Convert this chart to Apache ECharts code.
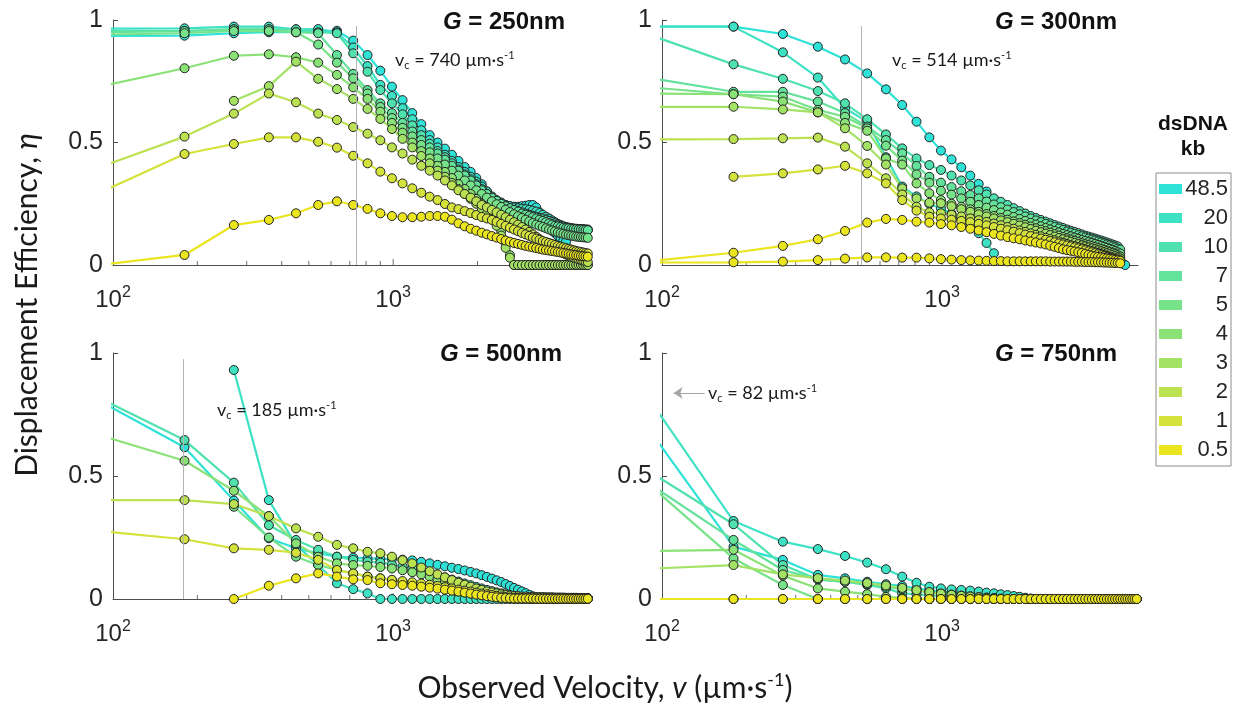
<!DOCTYPE html>
<html><head><meta charset="utf-8">
<script src="https://cdn.jsdelivr.net/npm/echarts@6/dist/echarts.min.js"></script>
<style>html,body{margin:0;padding:0;background:#fff}#c{width:1242px;height:707px}</style>
</head><body><div id="c"></div><script>
// ---------- DATA ----------
const velocity = [90,180,270,360,450,540,630,720,810,900,990,1080,1170,1260,1350,1440,1530,1620,1710,1800,1890,1980,2070,2160,2250,2340,2430,2520,2610,2700,2790,2880,2970,3060,3150,3240,3330,3420,3510,3600,3690,3780,3870,3960,4050,4140,4230,4320,4410,4500,4590,4680,4770,4860,4950];
const kbLabels = ['48.5','20','10','7','5','4','3','2','1','0.5'];
const kbColors = ['#2ee2d8','#3de2c4','#50e2ae','#63e29b','#76e289','#8ae277','#a3e265','#bde251','#d5e23b','#ebe51f'];
const gLabels = ['250','300','500','750'];
const vcText = ['740','514','185','82'];
const vcLinePos = [740, 514, 178];
const xMinorTicks = [200,300,400,500,600,700,800,900,2000,3000,4000];
const xMajorTicks = [1000];

// G = 250 nm
const g250_48_5 = [0.935,0.936,0.946,0.95,0.95,0.955,0.956,0.916,0.857,0.793,
 0.728,0.673,0.62,0.575,0.53,0.50,0.475,0.45,0.425,0.40,
 0.38,0.355,0.33,0.30,0.275,0.26,0.25,0.245,0.24,0.238,
 0.238,0.24,0.242,0.245,0.245,0.235,0.215,0.197,0.175,0.155,
 0.14,0.13,0.12,0.11,0.10,0.095,null,null,null,null,
 null,null,null,null,null];
const g250_20 = [0.965,0.966,0.973,0.973,0.962,0.963,0.95,0.888,0.812,0.735,
 0.69,0.64,0.595,0.55,0.51,0.48,0.45,0.425,0.40,0.38,
 0.36,0.34,0.32,0.30,0.28,0.265,0.255,0.245,0.24,0.235,
 0.232,0.23,0.228,0.225,0.222,0.218,0.212,0.205,0.197,0.19,
 0.182,0.175,0.168,0.163,0.158,0.155,0.152,0.15,0.149,0.148,
 0.147,0.146,0.146,0.145,0.145];
const g250_10 = [0.955,0.955,0.962,0.962,0.962,0.95,0.946,0.864,0.789,0.714,
 0.66,0.615,0.57,0.53,0.495,0.465,0.44,0.415,0.39,0.37,
 0.35,0.33,0.31,0.29,0.275,0.26,0.25,0.24,0.23,0.225,
 0.22,0.215,0.21,0.205,0.2,0.197,0.193,0.19,0.185,0.18,
 0.175,0.17,0.165,0.16,0.158,0.155,0.152,0.15,0.148,0.147,
 0.146,0.145,0.145,0.144,0.143];
const g250_7 = [0.95,0.955,0.962,0.962,0.95,0.946,0.857,0.78,0.714,0.66,
 0.62,0.58,0.545,0.51,0.48,0.455,0.43,0.405,0.385,0.365,
 0.345,0.325,0.305,0.29,0.275,0.262,0.25,0.24,0.232,0.225,
 0.218,0.21,0.205,0.2,0.195,0.19,0.185,0.18,0.175,0.17,
 0.165,0.16,0.158,0.155,0.152,0.15,0.15,0.148,0.147,0.146,
 0.145,0.145,0.144,0.143,0.142];
const g250_5 = [0.94,0.946,0.955,0.955,0.95,0.90,0.826,0.762,0.70,0.645,
 0.60,0.56,0.525,0.49,0.46,0.435,0.41,0.385,0.365,0.345,
 0.325,0.305,0.29,0.275,0.26,0.248,0.237,0.226,0.216,0.207,
 0.199,0.192,0.185,0.178,0.171,0.165,0.16,0.155,0.15,0.145,
 0.141,0.137,0.133,0.13,0.127,0.124,0.122,0.12,0.118,0.116,
 0.115,0.114,0.113,0.112,0.111];
const g250_4 = [0.729,0.803,0.854,0.86,0.848,0.826,0.776,0.725,0.678,0.626,
 0.58,0.54,0.50,0.465,0.435,0.405,0.38,0.355,0.33,0.31,
 0.29,0.27,0.25,0.23,0.21,0.18,0.14,0.09,0.04,0,
 0,0,0,0,0,0,0,0,0,0,
 0,0,0,0,0,0,0,0,0,0,
 0,0,0,0,0];
const g250_3 = [null,null,0.67,0.73,0.83,0.76,0.718,0.678,0.637,0.596,
 0.555,0.515,0.48,0.445,0.415,0.385,0.36,0.335,0.31,0.29,
 0.27,0.25,0.23,0.21,0.19,0.16,0.12,0.07,0.03,0,
 0,0,0,0,0,0,0,0,0,0,
 0,0,0,0,0,0,0,0,0,0,
 0,0,0,0,0];
const g250_2 = [0.40,0.524,0.618,0.70,0.664,0.618,0.592,0.563,0.536,0.509,
 0.48,0.455,0.43,0.405,0.385,0.365,0.345,0.325,0.305,0.29,
 0.275,0.26,0.245,0.235,0.225,0.215,0.205,0.195,0.185,0.175,
 0.165,0.155,0.145,0.135,0.125,0.115,0.105,0.095,0.088,0.08,
 0.073,0.066,0.06,0.054,0.048,0.043,0.038,0.034,0.03,0.027,
 0.024,0.021,0.018,0.015,0.012];
const g250_1 = [0.296,0.453,0.494,0.521,0.521,0.503,0.479,0.446,0.415,0.381,
 0.354,0.333,0.313,0.295,0.279,0.265,0.249,0.235,0.228,0.22,
 0.212,0.204,0.196,0.19,0.184,0.176,0.168,0.16,0.152,0.145,
 0.138,0.131,0.125,0.119,0.113,0.108,0.103,0.098,0.094,0.09,
 0.086,0.082,0.078,0.075,0.072,0.069,0.066,0.063,0.06,0.057,
 0.055,0.053,0.051,0.049,0.047];
const g250_05 = [0,0.041,0.163,0.184,0.211,0.245,0.26,0.245,0.229,0.211,
 0.2,0.195,0.195,0.197,0.2,0.2,0.197,0.185,0.17,0.158,
 0.148,0.14,0.132,0.125,0.118,0.112,0.106,0.1,0.095,0.09,
 0.086,0.082,0.078,0.075,0.072,0.069,0.066,0.063,0.061,0.059,
 0.057,0.055,0.053,0.051,0.049,0.047,0.045,0.043,0.041,0.04,
 0.038,0.037,0.036,0.035,0.034];

// G = 300 nm
const g300_48_5 = [0.973,0.973,0.943,0.891,0.839,0.782,0.717,0.653,0.585,0.521,
 0.467,0.431,0.399,0.365,0.331,0.30,0.268,0.234,0.218,0.205,
 0.192,0.182,0.172,0.163,0.155,0.147,0.14,0.133,0.127,0.12,
 0.115,0.11,0.106,0.102,0.098,0.094,0.09,0.085,0.08,0.075,
 0.07,0.064,0.057,0.048,0.038,0.028,0.02,0.012,0.006,0,
 null,null,null,null,null];
const g300_20 = [0.973,0.973,0.868,0.765,0.64,0.585,0.44,0.32,0.28,0.25,
 0.231,0.21,0.19,0.165,0.13,0.09,0.048,null,null,null,
 null,null,null,null,null,null,null,null,null,null,
 null,null,null,null,null,null,null,null,null,null,
 null,null,null,null,null,null,null,null,null,null,
 null,null,null,null,null];
const g300_10 = [0.94,0.819,0.76,0.71,0.66,0.595,0.533,0.476,0.435,0.408,
 0.388,0.365,0.345,0.325,0.305,0.288,0.272,0.258,0.245,0.232,
 0.22,0.21,0.2,0.192,0.184,0.177,0.17,0.163,0.157,0.151,
 0.145,0.14,0.135,0.13,0.125,0.12,0.116,0.112,0.108,0.104,
 0.1,0.096,0.092,0.088,0.084,0.08,0.076,null,null,null,
 null,null,null,null,null];
const g300_7 = [0.764,0.707,0.707,0.667,0.62,0.565,0.51,0.456,0.404,0.36,
 0.336,0.318,0.301,0.286,0.272,0.259,0.247,0.236,0.226,0.216,
 0.207,0.198,0.19,0.182,0.175,0.168,0.161,0.155,0.149,0.143,
 0.137,0.132,0.127,0.122,0.117,0.112,0.108,0.104,0.1,0.096,
 0.092,0.088,0.084,0.08,0.076,0.072,0.067,0.063,null,null,
 null,null,null,null,null];
const g300_5 = [0.725,0.697,0.687,0.633,0.605,0.558,0.487,0.426,0.37,0.336,
 0.303,0.287,0.272,0.258,0.245,0.234,0.224,0.214,0.205,0.196,
 0.188,0.18,0.172,0.165,0.158,0.151,0.145,0.139,0.133,0.127,
 0.122,0.117,0.112,0.107,0.102,0.098,0.094,0.09,0.086,0.082,
 0.078,0.074,0.07,0.066,0.062,0.057,0.052,0.047,null,null,
 null,null,null,null,null];
const g300_4 = [0.70,0.697,0.667,0.623,0.58,0.548,0.435,0.41,0.333,0.293,
 0.265,0.25,0.238,0.227,0.217,0.208,0.2,0.192,0.185,0.178,
 0.171,0.164,0.157,0.15,0.144,0.138,0.132,0.126,0.12,0.114,
 0.109,0.104,0.099,0.094,0.089,0.085,0.081,0.077,0.073,0.069,
 0.065,0.061,0.057,0.053,0.049,0.045,0.04,0.035,null,null,
 null,null,null,null,null];
const g300_3 = [0.645,0.646,0.635,0.623,0.558,0.486,0.41,0.313,0.272,0.254,
 0.252,0.24,0.228,0.217,0.207,0.198,0.19,0.182,0.175,0.168,
 0.161,0.154,0.147,0.14,0.134,0.128,0.122,0.116,0.11,0.105,
 0.1,0.095,0.09,0.085,0.08,0.076,0.072,0.068,0.064,0.06,
 0.056,0.052,0.048,0.044,0.04,0.036,0.031,0.027,null,null,
 null,null,null,null,null];
const g300_2 = [0.513,0.514,0.517,0.52,0.483,0.415,0.354,0.288,0.238,0.215,
 0.211,0.205,0.198,0.19,0.183,0.176,0.169,0.162,0.155,0.148,
 0.141,0.135,0.129,0.123,0.117,0.111,0.106,0.101,0.096,0.091,
 0.086,0.081,0.077,0.073,0.069,0.065,0.061,0.057,0.053,0.049,
 0.045,0.041,0.037,0.033,0.029,0.025,0.022,0.02,null,null,
 null,null,null,null,null];
const g300_1 = [null,0.36,0.374,0.39,0.405,0.374,0.333,0.265,0.222,0.197,
 0.19,0.185,0.18,0.175,0.168,0.162,0.155,0.148,0.142,0.136,
 0.13,0.124,0.118,0.113,0.108,0.103,0.098,0.093,0.088,0.084,
 0.08,0.076,0.072,0.068,0.064,0.06,0.056,0.052,0.048,0.044,
 0.04,0.036,0.032,0.028,0.024,0.02,0.016,0.013,null,null,
 null,null,null,null,null];
const g300_05 = [0.015,0.05,0.078,0.105,0.139,0.173,0.188,0.184,0.177,0.173,
 0.167,0.162,0.155,0.148,0.141,0.134,0.127,0.12,0.114,0.109,
 0.105,0.1,0.096,0.092,0.088,0.084,0.079,0.074,0.069,0.064,
 0.061,0.058,0.055,0.052,0.049,0.045,0.041,0.038,0.035,0.033,
 0.031,0.029,0.027,0.025,0.023,0.021,0.019,0.017,null,null,
 null,null,null,null,null];
const g300_05b = [0.01,0.011,0.014,0.02,0.026,0.031,0.031,0.03,0.03,0.027,
 0.024,0.022,0.02,0.019,0.018,0.017,0.016,0.016,0.015,0.015,
 0.015,0.015,0.015,0.015,0.015,0.015,0.014,0.014,0.014,0.014,
 0.014,0.014,0.013,0.013,0.013,0.012,0.012,0.012,0.011,0.011,
 0.011,0.01,0.01,0.009,0.009,0.008,0.008,0.007,null,null,
 null,null,null,null,null];

// G = 500 nm
const g500_48_5 = [0.803,0.617,0.40,0.247,0.206,0.186,0.172,0.168,0.165,0.163,
 0.162,0.16,0.157,0.151,0.145,0.139,0.133,0.127,0.122,0.116,
 0.11,0.104,0.097,0.09,0.083,0.076,0.069,0.061,0.053,0.045,
 0.038,0.031,0.024,0.017,0.011,0.005,null,null,null,null,
 null,null,null,null,null,null,null,null,null,null,
 null,null,null,null,null];
const g500_20 = [null,null,0.931,0.402,0.22,0.138,0.064,0.04,0.023,0,
 0,0,0,0,0,0,0,0,0,0,
 0,0,0,0,0,0,0,0,0,0,
 0,0,0,0,0,0,0,0,0,0,
 0,0,0,0,0,0,0,0,0,0,
 0,0,0,0,0];
const g500_10 = [0.815,0.646,0.473,0.30,0.24,0.2,0.172,0.159,0.152,0.148,
 0.14,0.132,0.124,0.115,0.106,0.097,0.088,0.079,0.071,0.063,
 0.056,0.049,0.043,0.037,0.032,0.027,0.023,0.019,0.016,0.013,
 0.011,0.009,0.008,0.007,0.006,0.006,0.006,0.005,0.005,0.005,
 0.005,0.004,0.004,0.004,0.004,0.004,0.003,0.003,0.003,0.003,
 0.003,0.003,0.003,0.003,0.003];
const g500_5 = [null,null,0.375,0.25,0.172,0.138,0.118,0.104,0.091,0.084,
 0.077,0.07,0.064,0.058,0.052,0.046,0.041,0.036,0.031,0.027,
 0.023,0.019,0.016,0.013,0.011,0.009,0.007,0.006,0.005,0.004,
 0.004,0.004,0.003,0.003,0.003,0.003,0.003,0.003,0.002,0.002,
 0.002,0.002,0.002,0.002,0.002,0.002,0.002,0.002,0.002,0.002,
 0.002,0.002,0.002,0.002,0.002];
const g500_4 = [0.665,0.562,0.44,0.337,0.226,0.172,0.145,0.138,0.135,0.13,
 0.124,0.117,0.109,0.1,0.091,0.082,0.074,0.066,0.058,0.051,
 0.044,0.038,0.032,0.027,0.022,0.018,0.015,0.012,0.01,0.008,
 0.007,0.007,0.006,0.006,0.006,0.005,0.005,0.005,0.005,0.004,
 0.004,0.004,0.004,0.004,0.004,0.003,0.003,0.003,0.003,0.003,
 0.003,0.003,0.003,0.003,0.003];
const g500_2 = [0.402,0.402,0.386,0.337,0.287,0.253,0.22,0.206,0.192,0.186,
 0.172,0.158,0.145,0.128,0.113,0.1,0.088,0.077,0.066,0.058,
 0.05,0.043,0.037,0.031,0.027,0.023,0.019,0.016,0.014,0.012,
 0.011,0.01,0.01,0.009,0.009,0.008,0.008,0.008,0.007,0.007,
 0.007,0.006,0.006,0.006,0.006,0.005,0.005,0.005,0.005,0.005,
 0.004,0.004,0.004,0.004,0.004];
const g500_1 = [0.276,0.243,0.206,0.2,0.188,0.159,0.118,0.104,0.091,0.084,
 0.078,0.073,0.068,0.063,0.058,0.053,0.048,0.043,0.038,0.034,
 0.03,0.026,0.022,0.019,0.016,0.013,0.01,0.008,0.006,0.005,
 0.004,0.004,0.004,0.004,0.003,0.003,0.003,0.003,0.003,0.003,
 0.003,0.003,0.002,0.002,0.002,0.002,0.002,0.002,0.002,0.002,
 0.002,0.002,0.002,0.002,0.002];
const g500_05 = [null,null,0,0.054,0.084,0.104,0.091,0.08,0.077,0.064,
 0.06,0.057,0.054,0.05,0.046,0.042,0.038,0.034,0.03,0.026,
 0.022,0.018,0.015,0.012,0.009,0.007,0.005,0.004,0.003,0.002,
 0.002,0.002,0.002,0.002,0.002,0.001,0.001,0.001,0.001,0.001,
 0.001,0.001,0.001,0.001,0.001,0.001,0.001,0.001,0.001,0.001,
 0.001,0.001,0.001,0.001,0.001];

// G = 750 nm
const g750_48_5 = [0.689,0.213,0.159,0.098,0.084,0.07,0.06,0.053,0.043,0.035,
 0.03,0.026,0.022,0.019,0.016,0.013,0.01,0.008,0.006,0.004,
 0.002,0,0,0,0,0,0,0,0,0,
 0,0,0,0,0,0,0,0,0,0,
 0,0,0,0,0,0,0,0,0,0,
 0,0,0,0,0];
const g750_20 = [0.813,0.317,0.233,0.203,0.175,0.148,0.121,0.091,0.066,0.05,
 0.043,0.039,0.037,0.034,0.03,0.026,0.023,0.019,0.016,0.012,
 0.009,0.005,0.002,0,0,0,0,0,0,0,
 0,0,0,0,0,0,0,0,0,0,
 0,0,0,0,0,0,0,0,0,0,
 0,0,0,0,0];
const g750_10 = [0.519,0.304,0.138,0.08,0.07,0.057,0.043,0.023,0.019,0.015,
 0.012,0.01,0.008,0.006,0.004,0.002,0,0,0,0,
 0,0,0,0,0,0,0,0,0,0,
 0,0,0,0,0,0,0,0,0,0,
 0,0,0,0,0,0,0,0,0,0,
 0,0,0,0,0];
const g750_7 = [0.469,0.24,0.118,0.08,0.07,0.06,0.05,0.04,0.033,0.027,
 0.022,0.018,0.014,0.011,0.008,0.006,0.004,0.002,0,0,
 0,0,0,0,0,0,0,0,0,0,
 0,0,0,0,0,0,0,0,0,0,
 0,0,0,0,0,0,0,0,0,0,
 0,0,0,0,0];
const g750_5 = [0.465,0.165,0.057,0,0,0,0,0,0,0,
 0,0,0,0,0,0,0,0,0,0,
 0,0,0,0,0,0,0,0,0,0,
 0,0,0,0,0,0,0,0,0,0,
 0,0,0,0,0,0,0,0,0,0,
 0,0,0,0,0];
const g750_4 = [0.195,0.2,0.095,0.043,0.03,0.02,0.009,0.005,0.002,0,
 0,0,0,0,0,0,0,0,0,0,
 0,0,0,0,0,0,0,0,0,0,
 0,0,0,0,0,0,0,0,0,0,
 0,0,0,0,0,0,0,0,0,0,
 0,0,0,0,0];
const g750_3 = [0.123,0.138,0.1,0.085,0.075,0.065,0.055,0.045,0.036,0.028,
 0.022,0.017,0.013,0.01,0.007,0.005,0.003,0,0,0,
 0,0,0,0,0,0,0,0,0,0,
 0,0,0,0,0,0,0,0,0,0,
 0,0,0,0,0,0,0,0,0,0,
 0,0,0,0,0];
const g750_1 = [0,0,0,0,0,0,0,0,0,0,
 0,0,0,0,0,0,0,0,0,0,
 0,0,0,0,0,0,0,0,0,0,
 0,0,0,0,0,0,0,0,0,0,
 0,0,0,0,0,0,0,0,0,0,
 0,0,0,0,0];
const g750_05 = [0,0,0,0,0,0,0,0,0,0,
 0,0,0,0,0,0,0,0,0,0,
 0,0,0,0,0,0,0,0,0,0,
 0,0,0,0,0,0,0,0,0,0,
 0,0,0,0,0,0,0,0,0,0,
 0,0,0,0,0];

const panels = [
  [['48.5',g250_48_5],['20',g250_20],['10',g250_10],['7',g250_7],['5',g250_5],['4',g250_4],['3',g250_3],['2',g250_2],['1',g250_1],['0.5',g250_05]],
  [['48.5',g300_48_5],['20',g300_20],['10',g300_10],['7',g300_7],['5',g300_5],['4',g300_4],['3',g300_3],['2',g300_2],['1',g300_1],['0.5',g300_05],['0.5',g300_05b]],
  [['48.5',g500_48_5],['20',g500_20],['10',g500_10],['5',g500_5],['4',g500_4],['2',g500_2],['1',g500_1],['0.5',g500_05]],
  [['48.5',g750_48_5],['20',g750_20],['10',g750_10],['7',g750_7],['5',g750_5],['4',g750_4],['3',g750_3],['1',g750_1],['0.5',g750_05]]
];

// ---------- CHART ----------
const AX = '#4d4d4d', TXT = '#262626';
const colorOf = n => kbColors[kbLabels.indexOf(n)];
const gridPos = [
  {left:113, top:20, width:476, height:245},
  {left:662, top:20, width:476, height:245},
  {left:113, top:353, width:476, height:246},
  {left:662, top:353, width:476, height:246}
];
const isPow = (v, e) => Math.abs(Math.log10(v) - e) < 1e-6;

const xAxes = gridPos.map((g, i) => ({
  type:'log', logBase:10, min:100, max:5000, gridIndex:i,
  axisLine:{show:true, lineStyle:{color:AX, width:1}},
  axisTick:{show:false}, splitLine:{show:false}, minorTick:{show:false},
  axisLabel:{
    margin:20, color:TXT,
    formatter: v => isPow(v,2) ? '{b|10}{s|2}' : (isPow(v,3) ? '{b|10}{s|3}' : ''),
    rich:{ b:{fontSize:24, fontFamily:'Liberation Sans', color:TXT},
           s:{fontSize:16, fontFamily:'Liberation Sans', color:TXT, padding:[0,0,14,0]} }
  }
}));
const yAxes = gridPos.map((g, i) => ({
  type:'value', min:0, max:1, interval:0.5, gridIndex:i,
  axisLine:{show:true, lineStyle:{color:AX, width:1}},
  axisTick:{show:true, inside:true, length:5, lineStyle:{color:AX}},
  splitLine:{show:false},
  axisLabel:{margin:10, fontSize:25, fontFamily:'Liberation Sans', color:TXT,
    formatter: v => v === 0 ? '0' : (v === 1 ? '1' : '0.5')}
}));

const series = [];
panels.forEach((list, p) => {
  list.forEach(([name, arr]) => {
    const c = colorOf(name);
    series.push({
      type:'line', name, xAxisIndex:p, yAxisIndex:p,
      data: velocity.map((v, j) => [v, arr[j] == null ? null : arr[j]]),
      symbol:'circle', symbolSize:9, showSymbol:true, showAllSymbol:true,
      connectNulls:false, clip:true, animation:false,
      lineStyle:{color:c, width:2.2},
      itemStyle:{color:c, borderColor:'#222', borderWidth:1},
      emphasis:{disabled:true}
    });
  });
  const ml = p < 3 ? {
      silent:true, symbol:'none', animation:false,
      label:{show:false}, lineStyle:{color:'#b3b3b3', width:1, type:'solid'},
      data:[[{coord:[vcLinePos[p], 0]}, {coord:[vcLinePos[p], 0.975]}]]
    } : {
      silent:true, symbol:['none','arrow'], symbolSize:9, animation:false,
      label:{show:false}, lineStyle:{color:'#a6a6a6', width:1, type:'solid'},
      data:[[{coord:[142, 0.837]}, {coord:[110, 0.837]}]]
    };
  series.push({
    type:'scatter', name:'minorTicks'+p, xAxisIndex:p, yAxisIndex:p, silent:true, animation:false,
    data: xMinorTicks.map(v => [v, 0]), symbol:'rect', symbolSize:[1,4], symbolOffset:[0,-2],
    itemStyle:{color:AX}, markLine: ml, z:1
  });
  series.push({
    type:'scatter', name:'majorTicks'+p, xAxisIndex:p, yAxisIndex:p, silent:true, animation:false,
    data: xMajorTicks.map(v => [v, 0]), symbol:'rect', symbolSize:[1,6], symbolOffset:[0,-3],
    itemStyle:{color:AX}, z:1
  });
});

const graphic = [];
const titlePos = [[565,22],[1117,22],[562,354],[1117,354]];
gLabels.forEach((g, i) => {
  graphic.push({type:'text', x:titlePos[i][0], y:titlePos[i][1], z:100,
    style:{text:'{i|G}{n| = ' + g + 'nm}', align:'right', verticalAlign:'middle',
      rich:{ i:{fontSize:24, fontWeight:'bold', fontStyle:'italic', fontFamily:'Liberation Sans', fill:'#111'},
             n:{fontSize:24, fontWeight:'bold', fontFamily:'Liberation Sans', fill:'#111'} }}});
});
const vcPos = [[395,60],[892,60],[217,410],[708,393]];
vcText.forEach((t, i) => {
  graphic.push({type:'text', x:vcPos[i][0], y:vcPos[i][1], z:100,
    style:{text:'{n|v}{sub|c}{n| = ' + t + ' µm·s}{sup|-1}', align:'left', verticalAlign:'middle',
      rich:{ n:{fontSize:18, fontFamily:'Lato', fill:'#1a1a1a'},
             sub:{fontSize:11, fontFamily:'Lato', fill:'#1a1a1a', padding:[10,0,0,0]},
             sup:{fontSize:11, fontFamily:'Lato', fill:'#1a1a1a', padding:[0,0,10,0]} }}});
});
graphic.push({type:'text', x:1193, y:124, z:100, style:{text:'dsDNA', align:'center', verticalAlign:'middle',
  fontSize:21, fontWeight:'bold', fontFamily:'Liberation Sans', fill:'#111'}});
graphic.push({type:'text', x:1193, y:149, z:100, style:{text:'kb', align:'center', verticalAlign:'middle',
  fontSize:21, fontWeight:'bold', fontFamily:'Liberation Sans', fill:'#111'}});
graphic.push({type:'text', x:605, y:688, z:100,
  style:{text:'{n|Observed Velocity, }{i|v}{n| (µm·s}{s|-1}{n|)}', align:'center', verticalAlign:'middle',
    rich:{ n:{fontSize:30, fontFamily:'Lato', fill:'#1a1a1a'},
           i:{fontSize:30, fontFamily:'Lato', fontStyle:'italic', fill:'#1a1a1a'},
           s:{fontSize:18, fontFamily:'Lato', fill:'#1a1a1a', padding:[0,0,16,0]} }}});
graphic.push({type:'text', x:27, y:305, rotation:Math.PI/2, z:100,
  style:{text:'{n|Displacement Efficiency, }{i|η}', align:'center', verticalAlign:'middle',
    rich:{ n:{fontSize:30, fontFamily:'Lato', fill:'#1a1a1a'},
           i:{fontSize:30, fontFamily:'Lato', fontStyle:'italic', fill:'#1a1a1a'} }}});

const option = {
  backgroundColor:'#ffffff',
  animation:false,
  grid: gridPos.map(g => Object.assign({containLabel:false}, g)),
  xAxis: xAxes, yAxis: yAxes,
  legend:{
    orient:'vertical', left:1156, top:173, selectedMode:false,
    data: kbLabels.map(n => ({name:n, icon:'rect'})),
    itemWidth:23, itemHeight:10, itemGap:7,
    padding:[5,3,5,3], borderColor:'#8c8c8c', borderWidth:1,
    itemStyle:{borderWidth:0},
    formatter: n => '{t|' + n + '}',
    textStyle:{ rich:{ t:{width:41, align:'right', fontSize:22, lineHeight:22, fontFamily:'Liberation Sans', color:TXT} } }
  },
  series, graphic
};
const chart = echarts.init(document.getElementById('c'), null, {renderer:'canvas'});
chart.setOption(option);
</script></body></html>
